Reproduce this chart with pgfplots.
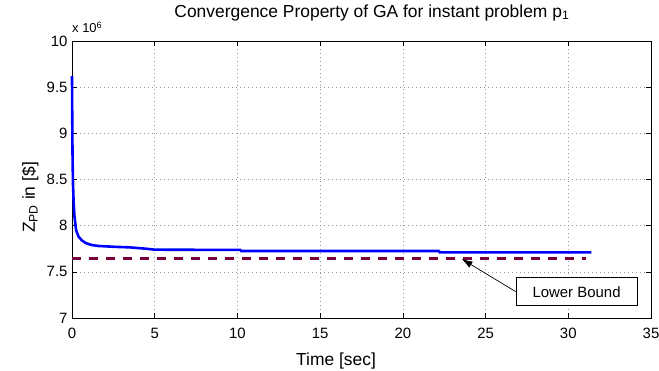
\documentclass[border=0pt]{standalone}
\usepackage{pgfplots}
\pgfplotsset{compat=1.18}
\usepackage{fontspec}
\setmainfont{Liberation Sans}
\usetikzlibrary{arrows.meta}
\definecolor{lbcol}{RGB}{120,0,60}
\begin{document}
\begin{tikzpicture}
\path[use as bounding box] (-72bp,-53bp) rectangle (587bp,318bp);
\begin{axis}[
  at={(0,0)}, anchor=south west,
  scale only axis, width=579bp, height=277bp,
  xmin=0, xmax=35, ymin=7, ymax=10,
  xtick={0,5,...,35}, ytick={7,7.5,...,10},
  /pgf/number format/assume math mode=true,
  tick label style={font=\fontsize{15}{17}\selectfont},
  xticklabel style={anchor=base, yshift=-20bp},
  yticklabel style={anchor=east, xshift=-1bp},
  axis line style={black, line width=0.8bp},
  tick style={black, line width=0.6bp},
  major tick length=5bp,
  grid=major,
  major grid style={gray!80, line width=0.6bp, dash pattern=on 0.7bp off 3.3bp},
  title={Convergence Property of GA for instant problem p\textsubscript{1}},
  title style={at={(axis description cs:0.518,1)}, anchor=base, yshift=18bp, font=\fontsize{17.5}{20}\selectfont},
  xlabel={Time [sec]},
  xlabel style={at={(axis description cs:0.456,0)}, anchor=base, yshift=-47bp, font=\fontsize{17.5}{20}\selectfont},
  clip=false,
]
\addplot[lbcol, line width=2.8bp, dash pattern=on 9bp off 8bp] coordinates {(0,7.647) (31.1,7.647)};
\addplot[blue, line width=2.6bp, line join=round] coordinates {
(0,9.62) (0.01,9.3) (0.03,8.8) (0.06,8.45) (0.1,8.25) (0.15,8.10) (0.25,7.95)
(0.4,7.88) (0.6,7.84) (0.85,7.81) (1.2,7.79) (1.6,7.78) (2.7,7.77) (3.5,7.765)
(4.5,7.75) (5.0,7.74) (10.2,7.737) (10.2,7.726) (22.2,7.726) (22.2,7.71) (31.4,7.71)
};
\node[anchor=base west, font=\fontsize{13}{14}\selectfont, inner sep=0pt] at ([yshift=8bp]axis description cs:0,1) {x 10\textsuperscript{6}};
\node[rotate=90, anchor=base, inner sep=0pt, font=\fontsize{17.5}{20}\selectfont] at ([xshift=-37bp]axis description cs:0,0.435) {Z\textsubscript{PD} in [\$]};
\node[draw=black, line width=0.6bp, fill=white, minimum width=121bp, minimum height=28bp, inner sep=0pt, font=\fontsize{15}{17}\selectfont] (lb) at (axis cs:30.5,7.285) {Lower Bound};
\draw[black, line width=0.7bp, -{Latex[length=11bp,width=7bp]}] (lb.west) -- (axis cs:23.55,7.64);
\end{axis}
\end{tikzpicture}
\end{document}
